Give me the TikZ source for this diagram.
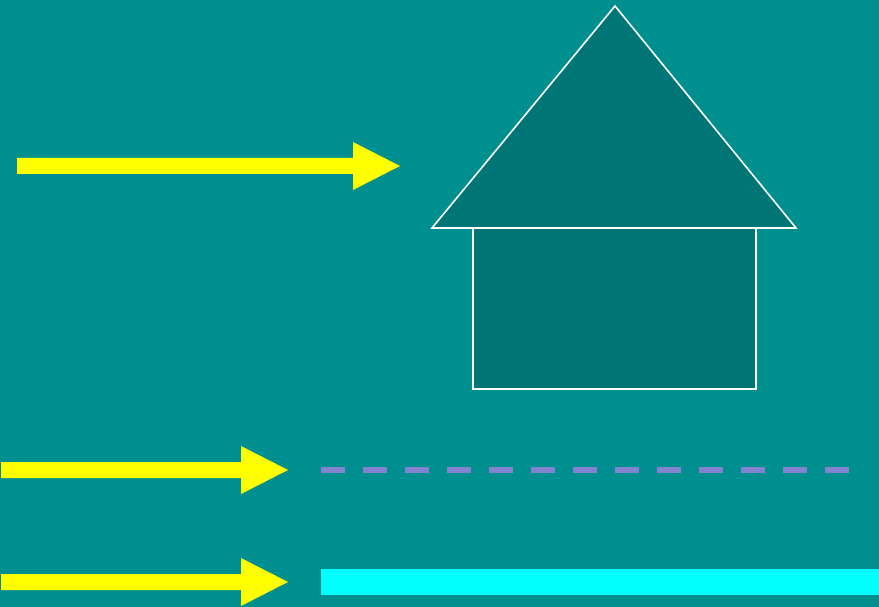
\documentclass[tikz,border=0pt]{standalone}
\definecolor{bgteal}{RGB}{0,143,143}
\definecolor{houseteal}{RGB}{0,117,117}
\definecolor{arrowyellow}{RGB}{255,255,0}
\definecolor{dashblue}{RGB}{130,130,208}
\definecolor{barcyan}{RGB}{0,255,255}
\tikzset{
  yarrow/.style={fill=arrowyellow, draw=none},
  houseline/.style={draw=white, line width=1.6pt, fill=houseteal, line join=miter},
}
\begin{document}
\begin{tikzpicture}[x=1pt,y=-1pt]
\fill[bgteal] (0,0) rectangle (879,607);
\useasboundingbox (0,0) rectangle (879,607);
% house
\draw[houseline] (473,228) rectangle (756,389);
\draw[houseline] (432,228) -- (615,6) -- (796,228) -- cycle;
% arrow 1
\fill[yarrow] (17,158) -- (353,158) -- (353,142) -- (400,166) -- (353,190) -- (353,174) -- (17,174) -- cycle;
% arrow 2
\fill[yarrow] (1,462) -- (241,462) -- (241,446) -- (288,470) -- (241,494) -- (241,478) -- (1,478) -- cycle;
% arrow 3
\fill[yarrow] (1,574) -- (241,574) -- (241,558) -- (288,582) -- (241,606) -- (241,590) -- (1,590) -- cycle;
% dashed line
\coordinate (dA) at (321,470);
\coordinate (dB) at (849,470);
\draw[dashblue, line width=6pt, dash pattern=on 24pt off 18pt] (dA) -- (dB);
% cyan bar
\fill[barcyan] (321,568.5) rectangle (879,595);
\end{tikzpicture}
\end{document}
